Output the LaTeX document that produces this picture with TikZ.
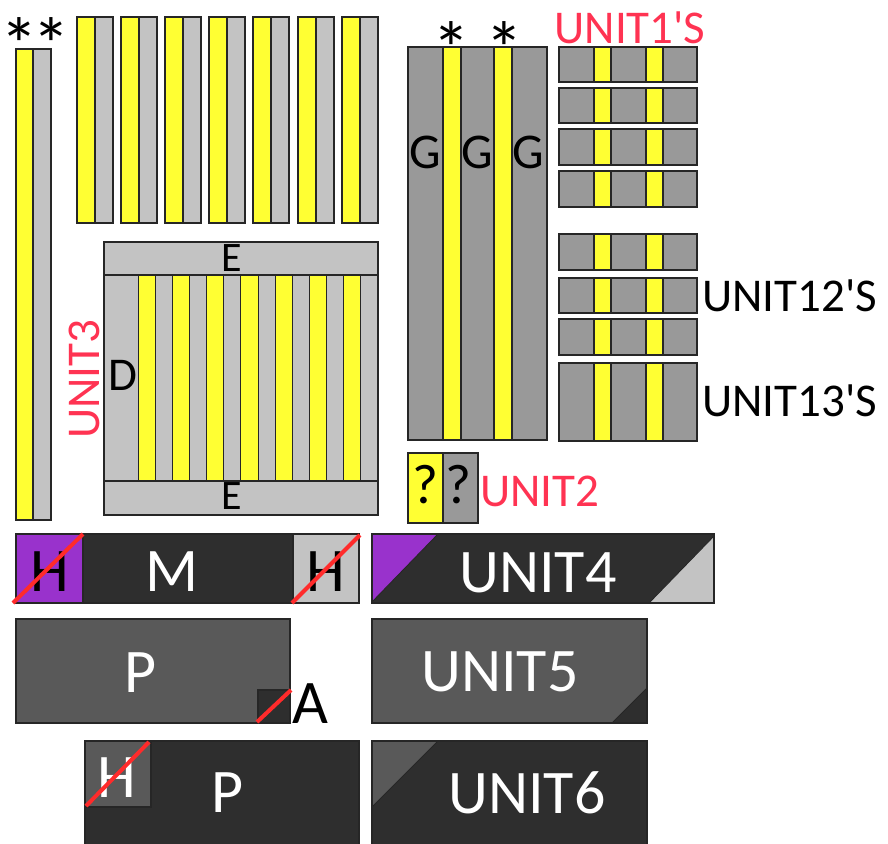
\documentclass[tikz,border=0pt]{standalone}
\usepackage{fontspec}
\setmainfont{Carlito}[Ligatures=TeXOff]
\definecolor{cyel}{HTML}{FFFF33}
\definecolor{clg}{HTML}{C3C3C3}
\definecolor{cmg}{HTML}{999999}
\definecolor{cdk}{HTML}{2E2E2E}
\definecolor{cmd}{HTML}{595959}
\definecolor{cpur}{HTML}{9932CC}
\definecolor{cred}{HTML}{FF2B2B}
\definecolor{ctxt}{HTML}{FF3352}
\begin{document}
\begin{tikzpicture}[x=1pt,y=-1pt,
  ol/.style={draw=black!85, line width=1.3pt},
  thin ol/.style={draw=black!85, line width=0.9pt},
  redln/.style={draw=cred, line width=4pt},
  lbl/.style={inner sep=0pt, font=\fontsize{47}{50}\selectfont},
  small lbl/.style={inner sep=0pt, font=\fontsize{42}{46}\selectfont},
  big/.style={inner sep=0pt, font=\fontsize{62}{66}\selectfont},
  star/.style={inner sep=0pt, anchor=north, font=\fontsize{76}{80}\selectfont}]
\clip (0,0) rectangle (888,843);
\fill[white] (0,0) rectangle (888,843);

% ---- left tall bar
\fill[cyel] (16,49) rectangle (33,520);
\fill[clg] (33,49) rectangle (51,520);
\draw[ol] (16,49) rectangle (51,520) (33,49) -- (33,520);
\node[star] (s1) at (19,17) {*};
\node[star] (s2) at (51,17) {*};

% ---- seven top bars
\foreach \x in {77,121,165,209,253,298,342} {
  \fill[cyel] (\x,17) rectangle (\x+18,223);
  \fill[clg] (\x+18,17) rectangle (\x+36,223);
  \draw[ol] (\x,17) rectangle (\x+36,223) (\x+18,17) -- (\x+18,223);
}

% ---- big striped box (UNIT3)
\fill[clg] (104,242) rectangle (378,515);
\foreach \i in {0,...,6} {
  \fill[cyel] (138+\i*34.2857,275) rectangle (138+\i*34.2857+17.14,481);
}
\foreach \k in {0,...,13} {
  \draw[thin ol] (138+\k*17.1428,275) -- (138+\k*17.1428,481);
}
\draw[ol] (104,242) rectangle (378,515) (104,275) -- (378,275) (104,481) -- (378,481);
\node[small lbl] (e1) at (232,258) {E};
\node[small lbl] (e2) at (232,496) {E};
\node[lbl] (d) at (123,375) {D};
\node[lbl, text=ctxt, rotate=90] (u3) at (84,379) {UNIT3};

% ---- G block
\fill[cmg] (408,47) rectangle (547,440);
\fill[cyel] (443,47) rectangle (461,440);
\fill[cyel] (494,47) rectangle (512,440);
\draw[ol] (408,47) rectangle (547,440)
  (443,47) -- (443,440) (461,47) -- (461,440)
  (494,47) -- (494,440) (512,47) -- (512,440);
\node[star] (s3) at (451,21) {*};
\node[star] (s4) at (504,21) {*};
\node[inner sep=0pt, font=\fontsize{50}{54}\selectfont] (g1) at (425,152) {G};
\node[inner sep=0pt, font=\fontsize{50}{54}\selectfont] (g2) at (477,152) {G};
\node[inner sep=0pt, font=\fontsize{50}{54}\selectfont] (g3) at (528,152) {G};

% ---- small unit blocks
\foreach \a/\b in {47/82,88/123,129/165,171/207,234/270,278/313,319/355,363/441} {
  \fill[cmg] (559,\a) rectangle (697,\b);
  \fill[cyel] (594,\a) rectangle (611,\b);
  \fill[cyel] (646,\a) rectangle (663,\b);
  \draw[ol] (559,\a) rectangle (697,\b)
    (594,\a) -- (594,\b) (611,\a) -- (611,\b)
    (646,\a) -- (646,\b) (663,\a) -- (663,\b);
}
\node[lbl, text=ctxt] (u1) at (630,28) {UNIT1'S};
\node[lbl, anchor=west] (u12) at (702,296) {UNIT12'S};
\node[lbl, anchor=west] (u13) at (702,401) {UNIT13'S};

% ---- ?? block
\fill[cyel] (408,453) rectangle (443,523);
\fill[cmg] (443,453) rectangle (478,523);
\draw[ol] (408,453) rectangle (478,523) (443,453) -- (443,523);
\node[inner sep=0pt, font=\fontsize{56}{60}\selectfont] (q1) at (425,485) {?};
\node[inner sep=0pt, font=\fontsize{56}{60}\selectfont] (q2) at (458,485) {?};
\node[lbl, text=ctxt, anchor=west] (u2) at (480,491) {UNIT2};

% ---- M bar
\fill[cdk] (16,534) rectangle (359,603);
\fill[cpur] (16,534) rectangle (83,603);
\fill[clg] (293,534) rectangle (359,603);
\draw[ol] (16,534) rectangle (359,603) (83,534) -- (83,603) (293,534) -- (293,603);
\node[big] (h1) at (50,572) {H};
\node[big] (h2) at (326,572) {H};
\node[big, text=white] (m) at (172,572) {M};
\draw[redln] (13,603) -- (83,534);
\draw[redln] (292,603) -- (360,535);

% ---- P box with A
\fill[cmd] (16,619) rectangle (290,723);
\fill[cdk] (258,690) rectangle (290,723);
\draw[ol] (16,619) rectangle (290,723);
\draw[ol] (258,723) -- (258,690) -- (290,690);
\node[big, text=white] (p1) at (141,673) {P};
\node[big] (a) at (310,704) {A};
\draw[redln] (257,722) -- (291,690);

% ---- lower P box with H
\fill[cdk] (85,741) rectangle (359,860);
\fill[cmd] (85,741) rectangle (151,807);
\draw[ol] (85,860) -- (85,741) -- (359,741) -- (359,860);
\draw[ol] (151,741) -- (151,807) -- (85,807);
\node[big, text=white] (h3) at (117,778) {H};
\node[big, text=white] (p2) at (228,793) {P};
\draw[redln] (86,806) -- (149,742);

% ---- UNIT4
\fill[cdk] (372,534) rectangle (714,603);
\fill[cpur] (372,534) -- (438,534) -- (372,602) -- cycle;
\fill[clg] (714,536) -- (714,603) -- (649,603) -- cycle;
\draw[thin ol] (438,534) -- (372,602) (714,536) -- (649,603);
\draw[ol] (372,534) rectangle (714,603);
\node[big, text=white] (u4) at (538,573) {UNIT4};

% ---- UNIT5
\fill[cmd] (372,619) rectangle (647,723);
\fill[cdk] (647,688) -- (647,723) -- (612,723) -- cycle;
\draw[thin ol] (647,688) -- (612,723);
\draw[ol] (372,619) rectangle (647,723);
\node[big, text=white] (u5) at (500,672) {UNIT5};

% ---- UNIT6
\fill[cdk] (372,741) rectangle (647,860);
\fill[cmd] (372,741) -- (438,741) -- (372,807) -- cycle;
\draw[thin ol] (438,741) -- (372,807);
\draw[ol] (372,860) -- (372,741) -- (647,741) -- (647,860);
\node[big, text=white] (u6) at (527,793) {UNIT6};
\end{tikzpicture}
\end{document}
